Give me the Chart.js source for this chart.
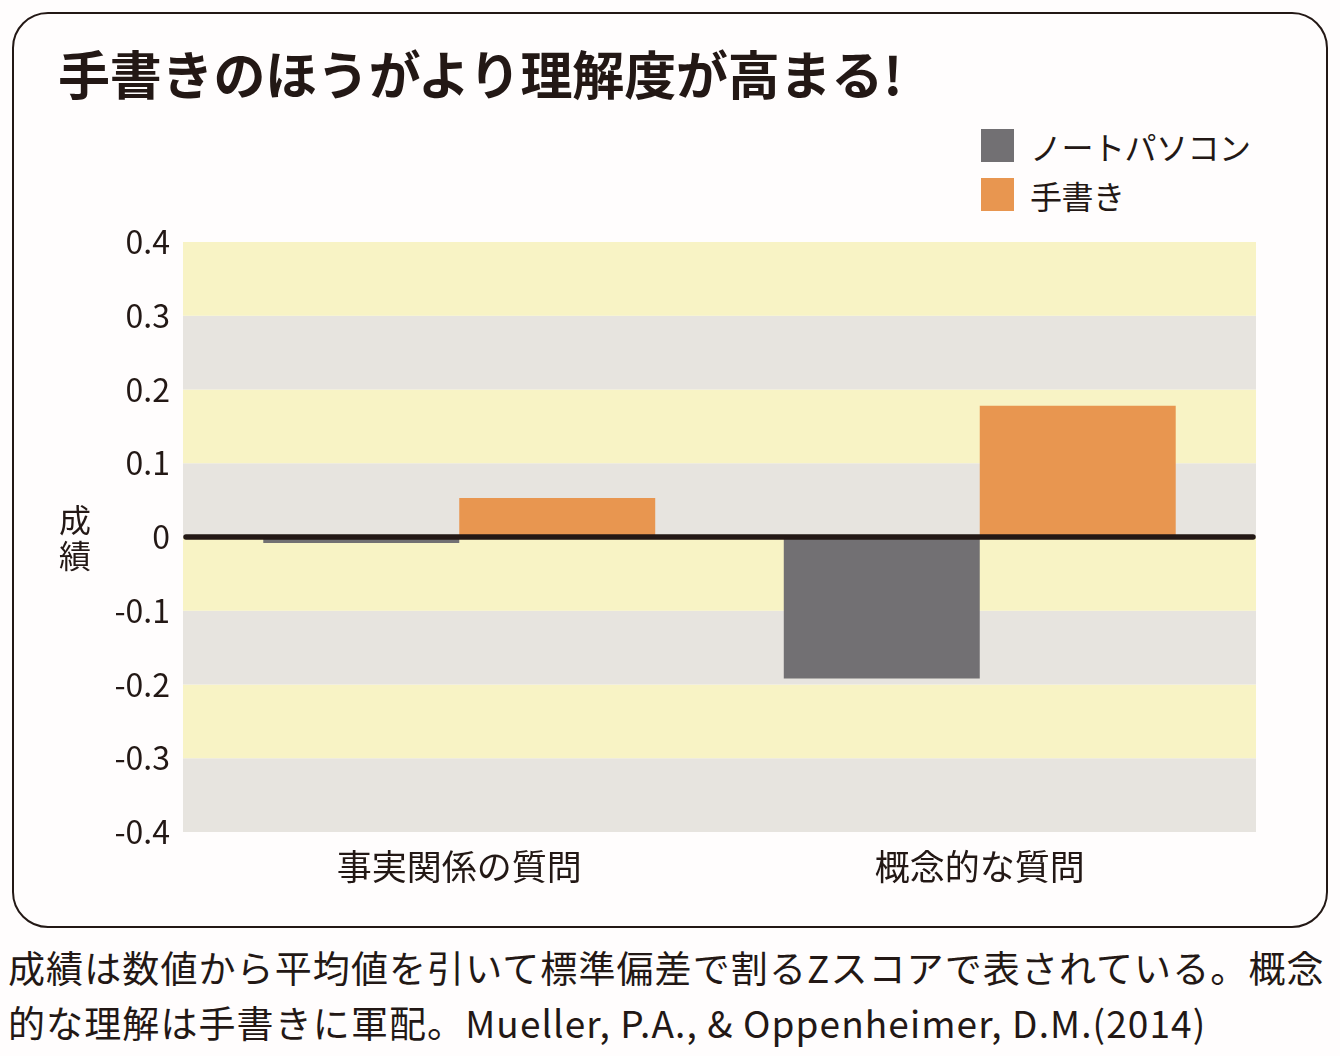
<!DOCTYPE html>
<html lang="ja">
<head>
<meta charset="utf-8">
<script src="https://cdn.jsdelivr.net/npm/chart.js@4/dist/chart.umd.min.js"></script>
<style>
  html, body { margin: 0; padding: 0; background: #fffdfd; }
  body { width: 1340px; height: 1056px; position: relative; overflow: hidden;
         font-family: "Noto Sans CJK JP", "Noto Sans", sans-serif; color: #231815; }
  #box { position: absolute; left: 12px; top: 12px; width: 1312px; height: 912px;
         border: 2px solid #231815; border-radius: 36px; }
  #title { position: absolute; left: 58px; top: 35px; font-size: 52px; font-weight: 700;
           letter-spacing: -0.2px; white-space: nowrap; }
  #legend { position: absolute; left: 981px; top: 121px; }
  .item { display: flex; align-items: center; height: 49px; font-size: 32px; letter-spacing: -0.5px; }
  .sw { width: 33px; height: 33px; margin-right: 16px; }
  #wrap { position: absolute; left: 0; top: 0; width: 1340px; height: 910px; }
  #note { position: absolute; left: 8px; top: 940px; font-size: 37px; line-height: 55px;
          white-space: nowrap; letter-spacing: 1.1px; }
</style>
</head>
<body>
<div id="box"></div>
<div id="title"></div>
<div id="legend"></div>
<div id="wrap"><canvas id="chart"></canvas></div>
<div id="note"></div>
<script>
const titleText = '手書きのほうがより理解度が高まる!';
const categories = ['事実関係の質問', '概念的な質問'];
const seriesNames = ['ノートパソコン', '手書き'];
const laptopValues = [-0.008, -0.192];
const handValues = [0.053, 0.178];
const yTitle = '成績';
const noteLines = [
  '成績は数値から平均値を引いて標準偏差で割るZスコアで表されている。概念',
  '的な理解は手書きに軍配。Mueller, P.A., & Oppenheimer, D.M.(2014)'
];

const ink = '#231815';
const yellow = '#f8f3c5';
const grey = '#e7e4df';
const font = '"Noto Sans CJK JP", "Noto Sans", sans-serif';
const bandPad = 16;

document.getElementById('title').textContent = titleText;
document.getElementById('note').innerHTML = noteLines.join('<br>');

// background stripes, drawn from the y scale ticks
const stripes = {
  id: 'stripes',
  beforeDatasetsDraw(chart) {
    const { ctx, chartArea, scales: { y } } = chart;
    const ticks = y.ticks.map(t => t.value);
    ctx.save();
    for (let i = 0; i < ticks.length - 1; i++) {
      const lo = Math.min(ticks[i], ticks[i + 1]);
      const hi = Math.max(ticks[i], ticks[i + 1]);
      const k = Math.round(lo * 10);
      ctx.fillStyle = Math.abs(k) % 2 === 1 ? yellow : grey;
      const top = y.getPixelForValue(hi), bot = y.getPixelForValue(lo);
      ctx.fillRect(chartArea.left - bandPad, top, chartArea.width + bandPad * 2, bot - top);
    }
    ctx.restore();
  },
  afterDatasetsDraw(chart) {
    const { ctx, chartArea, scales: { y } } = chart;
    const y0 = y.getPixelForValue(0);
    ctx.save();
    ctx.strokeStyle = ink;
    ctx.lineWidth = 5.5;
    ctx.lineCap = 'round';
    ctx.beginPath();
    ctx.moveTo(chartArea.left - bandPad + 3, y0);
    ctx.lineTo(chartArea.right + bandPad - 3, y0);
    ctx.stroke();
    // vertical axis title, one character per line
    ctx.fillStyle = ink;
    ctx.font = '32px ' + font;
    ctx.textAlign = 'center';
    ctx.textBaseline = 'middle';
    [...yTitle].forEach((c, i) => ctx.fillText(c, 75, 520 + i * 36));
    ctx.restore();
  }
};

const chart = new Chart(document.getElementById('chart'), {
  type: 'bar',
  data: {
    labels: categories,
    datasets: [
      { label: seriesNames[0], data: laptopValues, backgroundColor: '#727073' },
      { label: seriesNames[1], data: handValues, backgroundColor: '#e89650' }
    ]
  },
  options: {
    responsive: true,
    maintainAspectRatio: false,
    animation: false,
    barPercentage: 1,
    categoryPercentage: 0.753,
    layout: { padding: { top: 242, right: 100, left: 0, bottom: 0 } },
    plugins: { legend: { display: false }, tooltip: { enabled: false } },
    scales: {
      x: {
        grid: { display: false, drawTicks: false },
        border: { display: false },
        ticks: { color: ink, font: { family: font, size: 35 }, padding: 14 },
        afterFit(s) { s.height = 78; }
      },
      y: {
        min: -0.4, max: 0.4,
        grid: { display: false, drawTicks: false },
        border: { display: false },
        ticks: {
          stepSize: 0.1, color: ink, padding: 29,
          font: { family: font, size: 32 },
          callback: v => {
            const r = Math.round(v * 10) / 10;
            return r === 0 ? '0' : r.toFixed(1);
          }
        },
        afterFit(s) { s.width = 199; }
      }
    }
  },
  plugins: [stripes]
});

// legend built from the datasets
const legend = document.getElementById('legend');
chart.data.datasets.forEach(ds => {
  const row = document.createElement('div');
  row.className = 'item';
  const sw = document.createElement('span');
  sw.className = 'sw';
  sw.style.background = ds.backgroundColor;
  row.appendChild(sw);
  row.appendChild(document.createTextNode(ds.label));
  legend.appendChild(row);
});
</script>
</body>
</html>
